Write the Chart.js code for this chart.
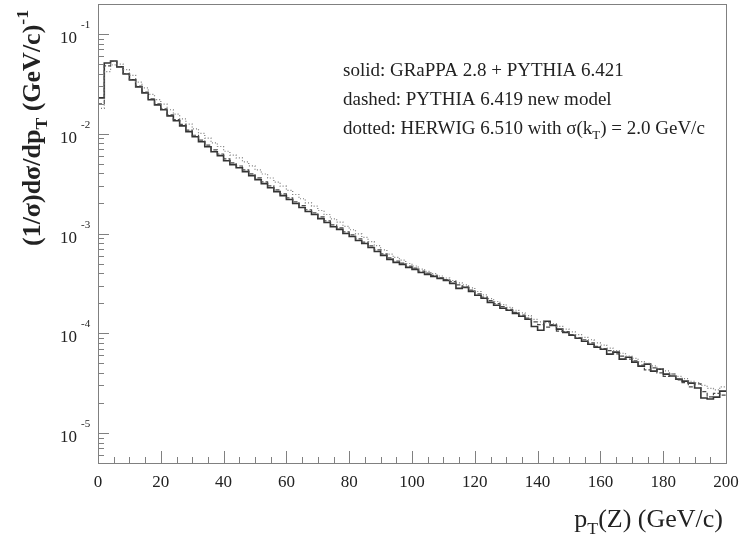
<!DOCTYPE html>
<html>
<head>
<meta charset="utf-8">
<script src="https://cdn.jsdelivr.net/npm/chart.js@4.4.0/dist/chart.umd.min.js"></script>
<style>
  html, body { margin: 0; padding: 0; background: #fff; }
</style>
</head>
<body>
<canvas id="chart" width="749" height="536"></canvas>
<script>
// histogram bins of 2 GeV/c from 0 to 200
const binWidth = 2;

// solid: GRaPPA 2.8 + PYTHIA 6.421
const solidVals = [
  0.0229, 0.0513, 0.0537, 0.0468, 0.0398, 0.0347, 0.0295, 0.0257, 0.0219, 0.0195,
  0.0174, 0.0151, 0.0135, 0.0120, 0.0105, 0.00933, 0.00832, 0.00741, 0.00661, 0.00603,
  0.00537, 0.00490, 0.00457, 0.00417, 0.00380, 0.00347, 0.00316, 0.00288, 0.00263, 0.00240,
  0.00219, 0.00200, 0.00182, 0.00166, 0.00155, 0.00141, 0.00129, 0.00117, 0.00110, 0.00100,
  9.33e-4, 8.51e-4, 7.94e-4, 7.24e-4, 6.61e-4, 6.03e-4, 5.50e-4, 5.13e-4, 4.90e-4, 4.57e-4,
  4.37e-4, 4.07e-4, 3.89e-4, 3.72e-4, 3.55e-4, 3.39e-4, 3.16e-4, 2.82e-4, 2.88e-4, 2.63e-4,
  2.40e-4, 2.24e-4, 2.04e-4, 1.91e-4, 1.78e-4, 1.70e-4, 1.58e-4, 1.48e-4, 1.38e-4, 1.17e-4,
  1.07e-4, 1.32e-4, 1.20e-4, 1.10e-4, 1.02e-4, 9.55e-5, 8.91e-5, 8.32e-5, 7.76e-5, 7.24e-5,
  6.92e-5, 6.17e-5, 6.46e-5, 5.50e-5, 5.75e-5, 5.13e-5, 4.68e-5, 4.90e-5, 4.17e-5, 4.37e-5,
  3.89e-5, 3.72e-5, 3.47e-5, 3.31e-5, 3.16e-5, 2.82e-5, 2.24e-5, 2.19e-5, 2.29e-5, 2.63e-5
];

// dashed: PYTHIA 6.419 new model
const dashedVals = [
  0.0200, 0.0480, 0.0530, 0.0470, 0.0402, 0.0350, 0.0300, 0.0262, 0.0224, 0.0199,
  0.0178, 0.0155, 0.0139, 0.0124, 0.0109, 0.00966, 0.00862, 0.00770, 0.00688, 0.00627,
  0.00560, 0.00510, 0.00475, 0.00434, 0.00396, 0.00361, 0.00330, 0.00300, 0.00274, 0.00250,
  0.00228, 0.00208, 0.00190, 0.00173, 0.00161, 0.00147, 0.00134, 0.00122, 0.00114, 0.00104,
  9.70e-4, 8.85e-4, 8.20e-4, 7.50e-4, 6.85e-4, 6.25e-4, 5.70e-4, 5.30e-4, 5.05e-4, 4.70e-4,
  4.50e-4, 4.20e-4, 4.00e-4, 3.80e-4, 3.60e-4, 3.45e-4, 3.30e-4, 3.05e-4, 2.90e-4, 2.70e-4,
  2.48e-4, 2.30e-4, 2.12e-4, 1.98e-4, 1.85e-4, 1.74e-4, 1.62e-4, 1.52e-4, 1.42e-4, 1.30e-4,
  1.22e-4, 1.15e-4, 1.22e-4, 1.05e-4, 1.04e-4, 9.70e-5, 9.00e-5, 8.60e-5, 8.00e-5, 7.40e-5,
  7.00e-5, 6.70e-5, 6.20e-5, 5.90e-5, 5.50e-5, 5.30e-5, 4.80e-5, 4.30e-5, 4.50e-5, 4.00e-5,
  3.70e-5, 3.90e-5, 3.40e-5, 3.20e-5, 2.90e-5, 3.10e-5, 2.60e-5, 2.30e-5, 2.50e-5, 2.40e-5
];

// dotted: HERWIG 6.510
const dottedVals = [
  0.0180, 0.0420, 0.0490, 0.0500, 0.0440, 0.0385, 0.0330, 0.0288, 0.0248, 0.0220,
  0.0198, 0.0174, 0.0157, 0.0141, 0.0125, 0.0112, 0.0101, 0.00905, 0.00810, 0.00745,
  0.00668, 0.00612, 0.00572, 0.00522, 0.00476, 0.00434, 0.00395, 0.00360, 0.00328, 0.00298,
  0.00271, 0.00246, 0.00223, 0.00203, 0.00188, 0.00170, 0.00155, 0.00140, 0.00130, 0.00118,
  1.09e-3, 9.90e-4, 9.15e-4, 8.30e-4, 7.55e-4, 6.85e-4, 6.20e-4, 5.75e-4, 5.40e-4, 5.00e-4,
  4.72e-4, 4.40e-4, 4.18e-4, 3.96e-4, 3.75e-4, 3.58e-4, 3.38e-4, 3.20e-4, 3.05e-4, 2.85e-4,
  2.62e-4, 2.42e-4, 2.22e-4, 2.08e-4, 1.94e-4, 1.82e-4, 1.70e-4, 1.60e-4, 1.50e-4, 1.38e-4,
  1.30e-4, 1.28e-4, 1.24e-4, 1.17e-4, 1.10e-4, 1.03e-4, 9.70e-5, 9.10e-5, 8.60e-5, 8.00e-5,
  7.60e-5, 7.10e-5, 6.70e-5, 6.30e-5, 5.90e-5, 5.60e-5, 5.20e-5, 5.00e-5, 4.70e-5, 4.40e-5,
  4.20e-5, 3.90e-5, 3.70e-5, 3.50e-5, 3.30e-5, 3.20e-5, 3.00e-5, 2.80e-5, 2.70e-5, 2.90e-5
];

const xTickLabels = [0, 20, 40, 60, 80, 100, 120, 140, 160, 180, 200];
const yTickExponents = [-1, -2, -3, -4, -5];

const SERIF = '"Liberation Serif", "DejaVu Serif", serif';

// left edges of bins + closing point at 200, drawn as steps
function toSteps(vals) {
  const pts = vals.map((v, i) => ({ x: i * binWidth, y: v }));
  pts.push({ x: vals.length * binWidth, y: vals[vals.length - 1] });
  return pts;
}

// text with sub/superscript pieces: [{t, s}] s=-1 sub, 1 sup
function richWidth(ctx, parts, size, weight) {
  let w = 0;
  parts.forEach(p => {
    const fs = p.s ? size * 0.68 : size;
    ctx.font = `${weight} ${fs}px ${SERIF}`;
    w += ctx.measureText(p.t).width;
  });
  return w;
}
function drawRich(ctx, parts, x, y, size, weight) {
  parts.forEach(p => {
    const fs = p.s ? size * 0.68 : size;
    ctx.font = `${weight} ${fs}px ${SERIF}`;
    let dy = 0;
    if (p.s === -1) dy = size * 0.28;
    if (p.s === 1) dy = -size * 0.45;
    ctx.fillText(p.t, x, y + dy);
    x += ctx.measureText(p.t).width;
  });
}

const decorations = {
  id: "decorations",
  afterDraw(chart) {
    const ctx = chart.ctx;
    const a = chart.chartArea;
    const xs = chart.scales.x;
    const ys = chart.scales.y;
    ctx.save();

    // frame
    ctx.strokeStyle = "#808080";
    ctx.lineWidth = 1;
    ctx.strokeRect(Math.round(a.left) + 0.5, Math.round(a.top) + 0.5,
      Math.round(a.right - a.left), Math.round(a.bottom - a.top));

    // x ticks
    ctx.beginPath();
    for (let v = 0; v <= 200; v += 5) {
      const px = Math.round(xs.getPixelForValue(v)) + 0.5;
      const len = v % 20 === 0 ? 12 : 6;
      ctx.moveTo(px, a.bottom);
      ctx.lineTo(px, a.bottom - len);
    }
    // y ticks (log)
    for (let e = -6; e <= 0; e++) {
      for (let m = 1; m <= 9; m++) {
        const v = m * Math.pow(10, e);
        if (v < ys.min || v > ys.max) continue;
        const py = Math.round(ys.getPixelForValue(v)) + 0.5;
        const len = m === 1 ? 11 : 6;
        ctx.moveTo(a.left, py);
        ctx.lineTo(a.left + len, py);
      }
    }
    ctx.stroke();

    ctx.fillStyle = "#222";
    ctx.textBaseline = "alphabetic";

    // x tick labels
    ctx.font = `17px ${SERIF}`;
    ctx.textAlign = "center";
    xTickLabels.forEach(v => {
      ctx.fillText(String(v), xs.getPixelForValue(v), 487);
    });

    // y tick labels 10^n
    yTickExponents.forEach(e => {
      const py = ys.getPixelForValue(Math.pow(10, e));
      ctx.font = `17px ${SERIF}`;
      ctx.textAlign = "right";
      ctx.fillText("10", 77, py + 9);
      ctx.font = `11px ${SERIF}`;
      ctx.textAlign = "left";
      ctx.fillText(String(e), 81, py - 6);
    });

    // x title
    ctx.textAlign = "left";
    const xt = [{ t: "p" }, { t: "T", s: -1 }, { t: "(Z) (GeV/c)" }];
    const xw = richWidth(ctx, xt, 26, "normal");
    drawRich(ctx, xt, 723 - xw, 527, 26, "normal");

    // y title, rotated
    const yt = [{ t: "(1/σ)dσ/dp" }, { t: "T", s: -1 }, { t: " (GeV/c)" }, { t: "-1", s: 1 }];
    const yw = richWidth(ctx, yt, 26, "bold");
    ctx.save();
    ctx.translate(40, 128);
    ctx.rotate(-Math.PI / 2);
    drawRich(ctx, yt, -yw / 2, 0, 26, "bold");
    ctx.restore();

    // legend text
    drawRich(ctx, [{ t: "solid: GRaPPA 2.8 + PYTHIA 6.421" }], 343, 76, 19, "normal");
    drawRich(ctx, [{ t: "dashed: PYTHIA 6.419 new model" }], 343, 105, 19, "normal");
    drawRich(ctx, [{ t: "dotted: HERWIG 6.510 with σ(k" }, { t: "T", s: -1 }, { t: ") = 2.0 GeV/c" }], 343, 134, 19, "normal");

    ctx.restore();
  }
};

const chart = new Chart(document.getElementById("chart"), {
  type: "line",
  data: {
    datasets: [
      {
        label: "dotted",
        data: toSteps(dottedVals),
        stepped: "before",
        borderColor: "#7a7a7a",
        borderWidth: 1.2,
        borderDash: [1, 2],
        pointRadius: 0,
        fill: false
      },
      {
        label: "dashed",
        data: toSteps(dashedVals),
        stepped: "before",
        borderColor: "#4a4a4a",
        borderWidth: 1.2,
        borderDash: [4, 2],
        pointRadius: 0,
        fill: false
      },
      {
        label: "solid",
        data: toSteps(solidVals),
        stepped: "before",
        borderColor: "#333",
        borderWidth: 1.6,
        pointRadius: 0,
        fill: false
      }
    ]
  },
  options: {
    responsive: false,
    devicePixelRatio: 1,
    animation: false,
    layout: { padding: { left: 98, right: 23, top: 4, bottom: 73 } },
    plugins: {
      legend: { display: false },
      tooltip: { enabled: false }
    },
    scales: {
      x: { type: "linear", min: 0, max: 200, display: false },
      y: { type: "logarithmic", min: 5e-6, max: 0.2, display: false }
    }
  },
  plugins: [decorations]
});
</script>
</body>
</html>
